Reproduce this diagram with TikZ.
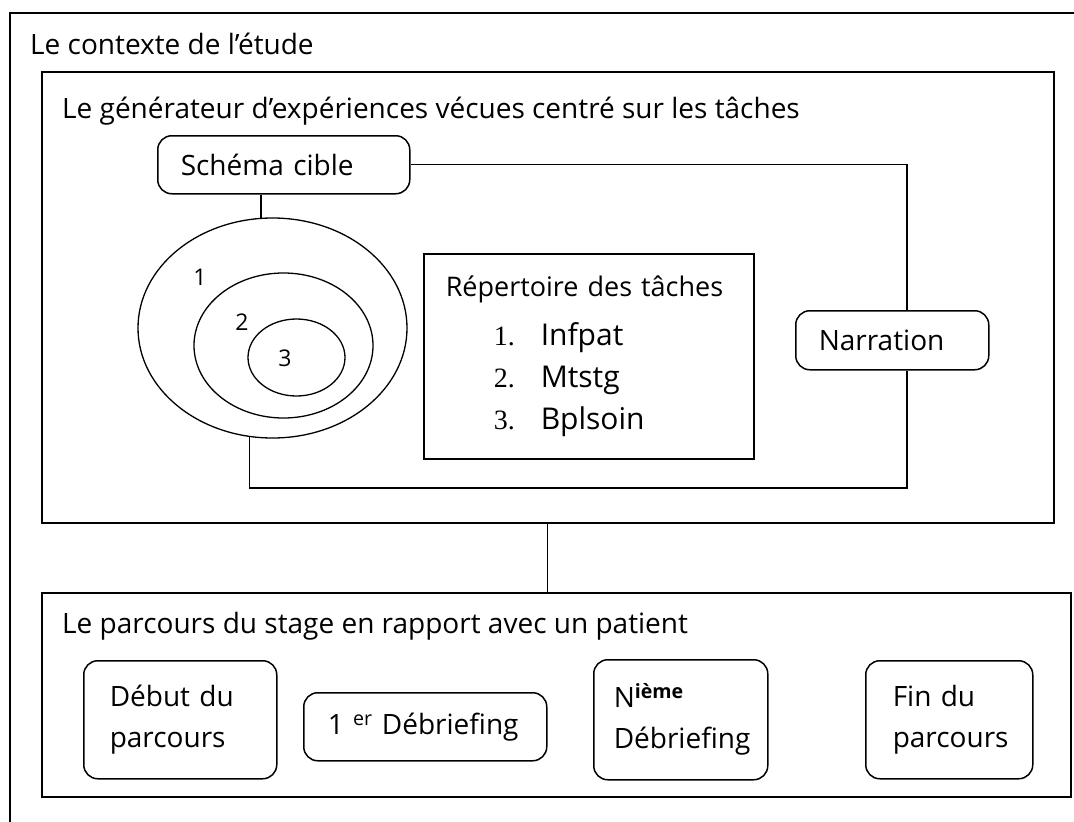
\documentclass[tikz,border=0pt]{standalone}
\usepackage{fontspec}
\setmainfont{Open Sans}
\newfontfamily\numfont{Liberation Serif}
\usetikzlibrary{shapes.geometric}

\tikzset{
  frame/.style={draw, line width=1.5pt, anchor=north west, inner sep=0pt},
  rbox/.style={draw, line width=1.5pt, rounded corners=14pt, anchor=north west, align=left, inner ysep=0pt},
  ring/.style={draw, line width=1.3pt, ellipse, inner sep=0pt},
  link/.style={line width=1.3pt},
  title/.style={anchor=base west, inner sep=0pt},
  digit/.style={inner sep=0pt, font=\fontsize{23}{27}\selectfont},
}
\newcommand{\tache}[2]{\hspace*{48pt}\makebox[47pt][l]{\numfont\fontsize{28}{42}\selectfont #1}{\fontsize{30}{42}\selectfont #2}}

\begin{document}
\begin{tikzpicture}[x=1pt, y=-1pt, font=\fontsize{28}{41}\selectfont]
  \useasboundingbox (0,0) rectangle (1074,822);
  \clip (0,0) rectangle (1074,822);

  % cadres
  \node[frame, minimum width=1090pt, minimum height=830pt] (contexte) at (9,12) {};
  \node[frame, minimum width=1012pt, minimum height=451pt] (generateur) at (41,71) {};
  \node[frame, minimum width=1029pt, minimum height=204pt] (parcours) at (41,592) {};

  \node[title] (tcontexte) at (30,54) {Le contexte de l’étude};
  \node[title] (tgenerateur) at (62,118) {Le générateur d’expériences vécues centré sur les tâches};
  \node[title] (tparcours) at (62,633) {Le parcours du stage en rapport avec un patient};

  % generateur
  \node[rbox, minimum height=58pt, inner xsep=23pt, text width=206pt] (schema) at (157,135) {Schéma cible};
  \node[rbox, minimum height=59pt, inner xsep=23pt, text width=147pt] (narration) at (795,310) {Narration};

  \node[ring, minimum width=269pt, minimum height=220pt] (ell1) at (272.5,328) {};
  \node[ring, minimum width=179pt, minimum height=145pt] (ell2) at (283.5,345.5) {};
  \node[ring, minimum width=97pt, minimum height=77pt] (ell3) at (296.5,357.5) {};
  \node[digit] (n1) at (200,277) {1};
  \node[digit] (n2) at (242,322) {2};
  \node[digit] (n3) at (285,358) {3};

  \node[frame, align=left, minimum height=205pt, inner xsep=22pt, text width=286pt,
        font=\fontsize{27}{42}\selectfont] (repertoire) at (423,253)
    {Répertoire des tâches\\[7pt]
     \tache{1.}{Infpat}\\
     \tache{2.}{Mtstg}\\
     \tache{3.}{Bplsoin}};

  \coordinate (coin) at (907,488);
  \draw[link] (schema.east) -| (coin |- narration.north);
  \draw[link] (ell1.-102) |- (coin) -- (coin |- narration.south);
  \draw[link] (ell1.96) -- (ell1.96 |- schema.south);
  \draw[link] (generateur.south) -- (generateur.south |- parcours.north);

  % parcours
  \node[rbox, minimum height=118pt, inner xsep=26pt, text width=141pt] (debut) at (83,660) {Début du\\parcours};
  \node[rbox, minimum height=68pt, inner xsep=24pt, text width=195pt] (premier) at (303,692) {1 \textsuperscript{er} Débriefing};
  \node[rbox, minimum height=120pt, inner xsep=20pt, text width=134pt] (nieme) at (593,659) {N\textsuperscript{\bfseries ième}\\Débriefing};
  \node[rbox, minimum height=118pt, inner xsep=27pt, text width=113pt] (fin) at (865,660) {Fin du\\parcours};
\end{tikzpicture}
\end{document}
